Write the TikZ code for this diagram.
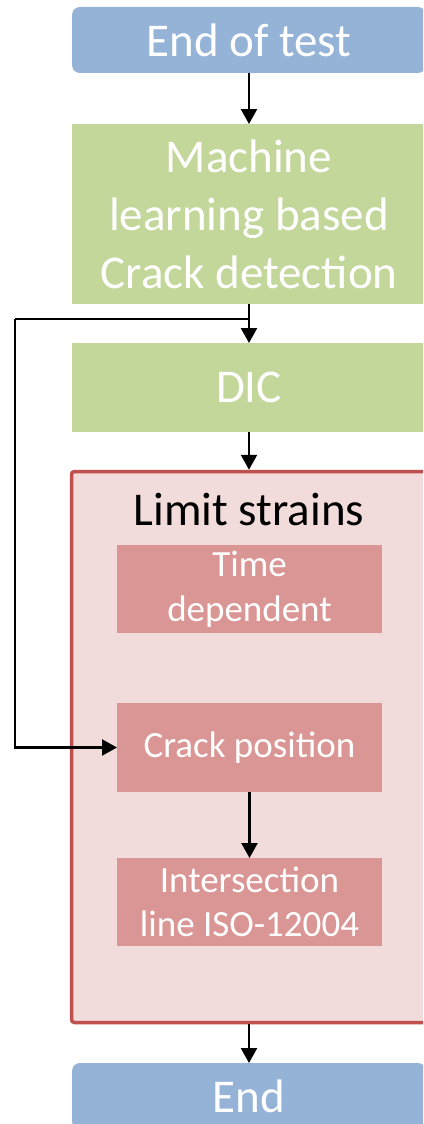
\documentclass[tikz,border=0pt]{standalone}
\usepackage{fontspec}
\setmainfont{Carlito}
\usetikzlibrary{arrows.meta}
\definecolor{termblue}{HTML}{95B3D7}
\definecolor{stepgreen}{HTML}{C4D79B}
\definecolor{limitfill}{HTML}{F2DCDB}
\definecolor{limitdraw}{HTML}{C0504D}
\definecolor{subfill}{HTML}{DA9694}
\begin{document}
\begin{tikzpicture}[x=1pt,y=-1pt,
        bigtext/.style={font=\fontsize{47pt}{58pt}\selectfont},
        smalltext/.style={font=\fontsize{37pt}{44.5pt}\selectfont},
        terminal/.style={bigtext, fill=termblue, text=white, rounded corners=8pt, minimum width=354pt, minimum height=66pt, align=center, outer sep=0pt},
        process/.style={bigtext, fill=stepgreen, text=white, minimum width=354pt, align=center, outer sep=0pt},
        subbox/.style={smalltext, fill=subfill, text=white, minimum width=265pt, minimum height=88pt, align=center, outer sep=0pt},
        flow/.style={-{Triangle[length=15pt,width=16pt]}, line width=2.4pt, black}]
        \clip (0,0) rectangle (423,1124);
        % Main chain
            \node[terminal] (test) at (249,40) {End of test};
            \node[process, minimum height=180pt] (ml) at (249,214) {Machine\\learning based\\Crack detection};
            \node[process, minimum height=89pt] (dic) at (249,387.5) {DIC};
        % Limit strains block
            \node[draw=limitdraw, line width=3.5pt, fill=limitfill, rounded corners=3pt, minimum width=355pt, minimum height=551pt, outer sep=1.75pt] (limits) at (249,747) {};
            \node[bigtext, anchor=base] (title) at (249,525) {Limit strains};
            \node[subbox] (time) at (249.5,589) {Time\\dependent};
            \node[subbox, minimum height=89pt] (crack) at (249.5,747.5) {Crack position};
            \node[subbox] (iso) at (249.5,902) {Intersection\\line ISO-12004};
            \node[terminal] (end) at (249,1096) {End};
        % Connectors
            \coordinate (split) at (249,319);
            \coordinate (loop) at (15,319);
            \draw[flow] (test) -- (ml);
            \draw[flow] (ml) -- (dic);
            \draw[flow] (dic) -- (limits);
            \draw[line width=2.4pt] (split) -- (loop);
            \draw[flow] (loop) |- (crack.west);
            \draw[flow] (crack) -- (iso);
            \draw[flow] (limits) -- (end);
        \end{tikzpicture}
\end{document}
